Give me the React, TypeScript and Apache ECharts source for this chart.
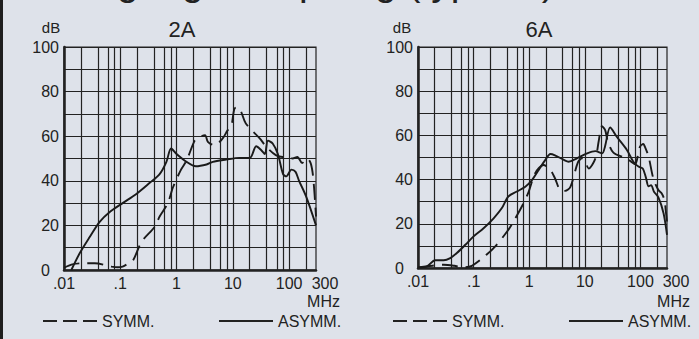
import React, { useEffect, useRef } from "react";
import * as echarts from "echarts";

// ---- data (frequency in MHz, attenuation in dB) ----
const SYMM_2A_FREQ = [0.01, 0.014, 0.02, 0.035, 0.07, 0.09, 0.11, 0.14, 0.17, 0.24, 0.41, 0.5, 0.7, 0.86, 1.2, 1.5, 2.1, 2.5, 3.2, 3.6, 4.7, 6.6, 8.1, 9.3, 10.7, 12.3, 14, 17, 30, 40, 58, 77, 95, 115, 140, 170, 210, 240, 260, 275, 290, 300];
const SYMM_2A_DB = [1, 2.5, 3, 3, 1.5, 1.2, 1.5, 3, 4.5, 12.7, 19.4, 24, 30, 37, 45, 49, 58, 59.5, 60.5, 57.5, 56, 59, 62.7, 64, 72.4, 73, 71, 65.7, 59, 55, 51.5, 50.7, 50.7, 50, 50.7, 48, 50, 48, 44, 38, 30, 24];

const ASYMM_2A_FREQ = [0.0135, 0.019, 0.029, 0.043, 0.065, 0.11, 0.19, 0.33, 0.5, 0.66, 0.8, 1, 1.5, 2.2, 3.4, 4.4, 7.6, 13, 20, 26, 32, 37, 42, 51, 63, 78, 89, 110, 130, 150, 200, 300];
const ASYMM_2A_DB = [0, 7.5, 15, 21.6, 26, 30, 34, 39, 43, 48.5, 54.5, 52, 48.5, 46.5, 47.3, 48.5, 49.5, 50.3, 50.3, 55.5, 53.7, 52, 58, 56.7, 52, 43, 42, 45, 44, 40, 33, 20];

const SYMM_6A_FREQ = [0.01, 0.015, 0.029, 0.045, 0.062, 0.093, 0.17, 0.245, 0.4, 0.52, 0.79, 0.98, 1.28, 1.8, 2.4, 2.9, 3.6, 4.4, 5.5, 7.5, 8.9, 10.2, 11.7, 15.5, 17.8, 20.3, 23.2, 25.5, 32.6, 56.5, 80, 90, 98, 113, 120, 140, 170, 210, 240, 270, 285, 300];
const SYMM_6A_DB = [0.3, 0.8, 1.5, 1, 0.3, 1, 6, 9.8, 16.5, 21, 29.3, 34.6, 42.9, 46.6, 44.4, 40.6, 35.3, 34.9, 36.7, 47.8, 49.6, 48, 45, 49.6, 57.6, 64.2, 62.4, 57.9, 52.2, 49.6, 47, 51, 54.9, 56.1, 54.9, 50.4, 40.6, 35.3, 33.8, 30.8, 26, 21];

const ASYMM_6A_FREQ = [0.01, 0.0145, 0.0204, 0.029, 0.038, 0.05, 0.071, 0.1, 0.151, 0.229, 0.32, 0.42, 0.6, 0.85, 1.12, 1.48, 1.95, 2.4, 2.9, 4.2, 5.1, 7.2, 11, 15.4, 20.5, 23, 28.5, 37.5, 57, 75, 92, 110, 125, 140, 155, 175, 210, 260, 300];
const ASYMM_6A_DB = [0.3, 0.75, 3.5, 3.5, 4.5, 6.8, 10.5, 14.3, 18, 22.5, 27, 32.3, 34.6, 36.8, 39.8, 44.4, 48.9, 51.6, 51, 48.9, 48.1, 49.6, 51.9, 52.9, 51.9, 54.9, 63.6, 59.4, 53.4, 48, 45.9, 45, 41, 37, 37.5, 34.5, 32, 24.8, 15];

const X_TICK_VALUES = [0.01, 0.1, 1, 10, 100, 300];
const X_TICK_LABELS = [".01", ".1", "1", "10", "100", "300"];
const GRID_MULTIPLIERS = [1, 2, 4, 6, 8];
const GRID_DECADES = [0.01, 0.1, 1, 10, 100];
const X_MIN = 0.01;
const X_MAX = 300;

const PANEL_TITLES = ["2A", "6A"];
const TITLE = "Einfügungsdämpfung (typisch)";

const FONT = "'Liberation Sans', Arial, Helvetica, sans-serif";
const INK = "#222222";
const BG = "#dee2ea";

const toPts = (f: number[], d: number[]) => f.map((v, i) => [Math.log10(v), d[i]]);

const gridFreqs: number[] = [];
GRID_DECADES.forEach((dec) => GRID_MULTIPLIERS.forEach((m) => {
  const v = dec * m;
  if (v <= X_MAX) gridFreqs.push(v);
}));
gridFreqs.push(X_MAX);

const xLabel = (v: number) => {
  for (let i = 0; i < X_TICK_VALUES.length; i++) {
    if (Math.abs(Math.log10(X_TICK_VALUES[i]) - v) < 1e-3) {
      return X_TICK_VALUES[i] === X_MAX ? "{r|" + X_TICK_LABELS[i] + "}" : X_TICK_LABELS[i];
    }
  }
  return "";
};

const yLabel = (v: number) => {
  if (v % 20 !== 0) return "";
  if (v === 0) return "{z|0}";
  return String(v);
};

function makeAxes(gridIndex: number) {
  const xAxis = {
    type: "value",
    gridIndex,
    min: Math.log10(X_MIN),
    max: Math.log10(X_MAX),
    interval: 1,
    axisLine: { show: true, onZero: false, lineStyle: { color: INK, width: 2.5 } },
    axisTick: { show: false },
    splitLine: { show: false },
    axisLabel: {
      formatter: xLabel,
      color: INK,
      fontSize: 16,
      fontFamily: FONT,
      margin: 5,
      rich: { r: { padding: [0, 0, 0, 18], fontSize: 16, fontFamily: FONT, color: INK } },
    },
  };
  const yAxis = {
    type: "value",
    gridIndex,
    min: 0,
    max: 100,
    interval: 10,
    axisLine: { show: true, onZero: false, lineStyle: { color: INK, width: 2.5 } },
    axisTick: { show: false },
    splitLine: { show: true, lineStyle: { color: INK, width: 1.2 } },
    axisLabel: {
      formatter: yLabel,
      color: INK,
      fontSize: 16,
      fontFamily: FONT,
      margin: 5,
      rich: { z: { padding: [0, 9, 0, 0], fontSize: 16, fontFamily: FONT, color: INK } },
    },
  };
  return { xAxis, yAxis };
}

function lineSeries(idx: number, f: number[], d: number[], dashed: boolean, withGrid: boolean) {
  const s: any = {
    type: "line",
    xAxisIndex: idx,
    yAxisIndex: idx,
    data: toPts(f, d),
    showSymbol: false,
    symbol: "none",
    smooth: 0.3,
    lineStyle: { color: "#1a1a1a", width: 1.9, type: dashed ? [16, 8] : "solid" },
    silent: true,
    z: 3,
  };
  if (withGrid) {
    s.markLine = {
      silent: true,
      symbol: ["none", "none"],
      label: { show: false },
      lineStyle: { color: INK, width: 1.2, type: "solid" },
      data: gridFreqs.map((g) => ({ xAxis: Math.log10(g) })),
      z: 1,
    };
  }
  return s;
}

function txt(text: string, x: number, y: number, size: number, align: string) {
  return {
    type: "text",
    x,
    y,
    silent: true,
    style: {
      text,
      fill: INK,
      fontSize: size,
      fontFamily: FONT,
      align,
      textAlign: align,
      verticalAlign: "middle",
      textVerticalAlign: "middle",
    },
  };
}

function legend(offset: number) {
  return [
    { type: "line", silent: true, shape: { x1: offset + 43, y1: 321, x2: offset + 97, y2: 321 }, style: { stroke: INK, lineWidth: 1.8, lineDash: [14, 6] } },
    txt("SYMM.", offset + 102, 321, 16, "left"),
    { type: "line", silent: true, shape: { x1: offset + 219, y1: 321, x2: offset + 273, y2: 321 }, style: { stroke: INK, lineWidth: 1.8 } },
    txt("ASYMM.", offset + 278, 321, 16, "left"),
  ];
}

export default function App() {
  const ref = useRef<HTMLDivElement>(null);
  useEffect(() => {
    if (!ref.current) return;
    const chart = echarts.init(ref.current, undefined, { renderer: "svg" });
    const a0 = makeAxes(0);
    const a1 = makeAxes(1);
    chart.setOption({
      animation: false,
      backgroundColor: BG,
      grid: [
        { left: 64, top: 47, width: 252, height: 223, show: true, borderColor: INK, borderWidth: 1.2, backgroundColor: "transparent" },
        { left: 418, top: 47, width: 249, height: 221, show: true, borderColor: INK, borderWidth: 1.2, backgroundColor: "transparent" },
      ],
      xAxis: [a0.xAxis, a1.xAxis],
      yAxis: [a0.yAxis, a1.yAxis],
      series: [
        lineSeries(0, ASYMM_2A_FREQ, ASYMM_2A_DB, false, true),
        lineSeries(0, SYMM_2A_FREQ, SYMM_2A_DB, true, false),
        lineSeries(1, ASYMM_6A_FREQ, ASYMM_6A_DB, false, true),
        lineSeries(1, SYMM_6A_FREQ, SYMM_6A_DB, true, false),
      ],
      graphic: [
        { type: "rect", silent: true, shape: { x: 0, y: 0, width: 3, height: 339 }, style: { fill: "#1e1e1e" } },
        txt(TITLE, 28, -19, 39, "left"),
        txt(PANEL_TITLES[0], 182, 29, 22, "center"),
        txt(PANEL_TITLES[1], 539, 29, 22, "center"),
        txt("dB", 51, 27, 15, "center"),
        txt("dB", 402, 27, 15, "center"),
        txt("MHz", 340, 301, 16, "right"),
        txt("MHz", 690, 301, 16, "right"),
        ...legend(0),
        ...legend(350),
      ],
    });
    return () => chart.dispose();
  }, []);
  return (
    <div
      ref={ref}
      style={{ position: "absolute", left: 0, top: 0, width: 699, height: 339 }}
    />
  );
}
